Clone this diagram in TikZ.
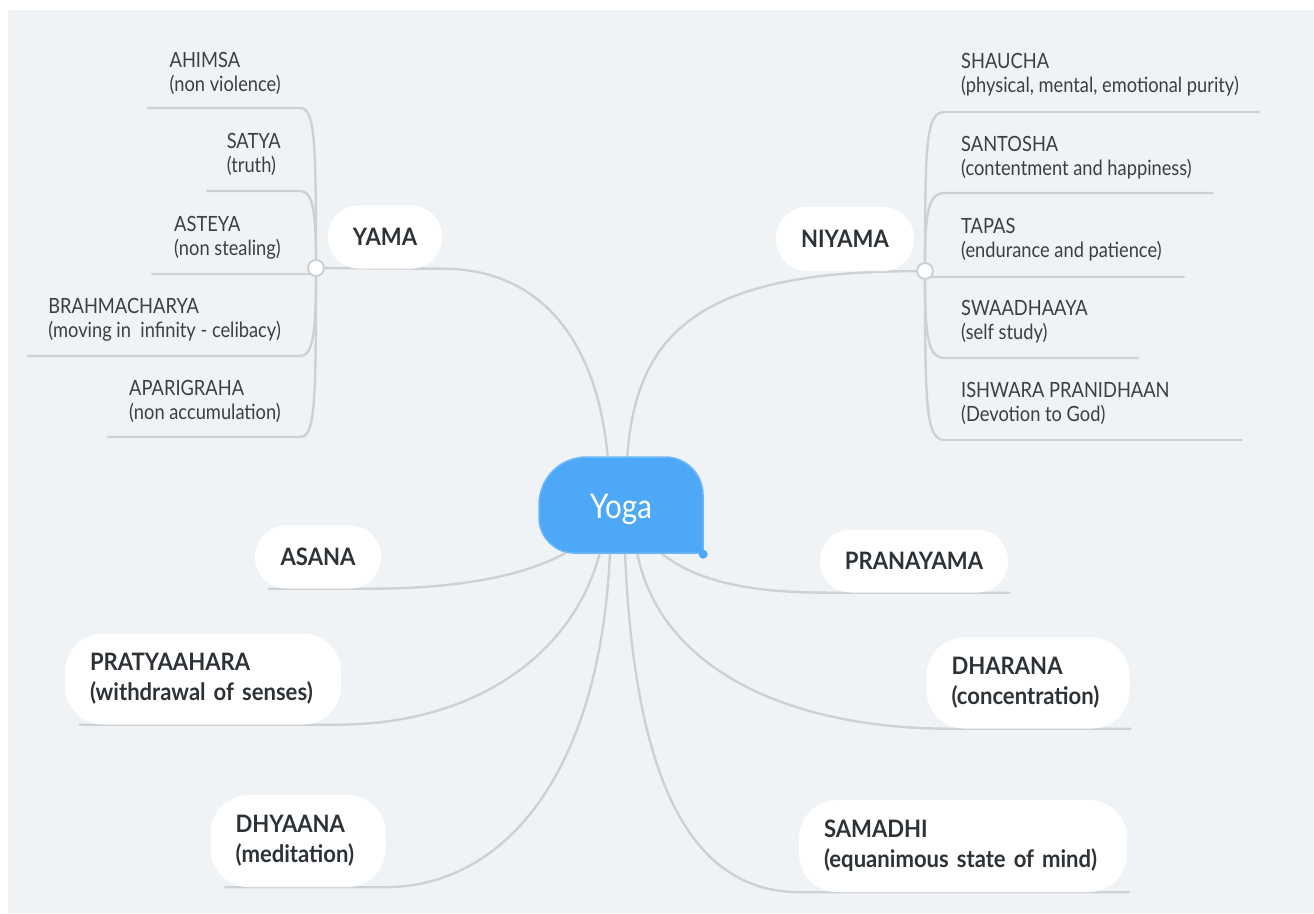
\documentclass[tikz,border=0pt]{standalone}
\usepackage{fontspec}
\setmainfont{Lato}[FakeStretch=0.87]
\newfontfamily\lblfont{Lato}[FakeStretch=0.92]
\usetikzlibrary{calc}
\definecolor{bgc}{HTML}{F0F3F6}
\definecolor{linec}{HTML}{CCD1D6}
\definecolor{blueY}{HTML}{4DA8F7}
\definecolor{blueB}{HTML}{6CB7F8}
\definecolor{txt}{HTML}{3A3F45}
\definecolor{lbl}{HTML}{2D3237}
\pgfdeclarelayer{back}
\pgfsetlayers{back,main}
\tikzset{
  conn/.style={draw=linec, line width=2.4pt, line cap=round},
  pill/.style={fill=white, rounded corners=31pt, inner xsep=25pt, inner ysep=0pt,
    font=\lblfont\bfseries\fontsize{24}{30}\selectfont, text=lbl},
  pilltwo/.style={pill, rounded corners=38pt, align=left},
  sub/.style={font=\fontsize{21}{24}\selectfont, text=txt, align=left, inner sep=0pt},
  hub/.style={circle, fill=white, draw=linec, line width=2pt, minimum size=16pt, inner sep=0pt},
}
\begin{document}
\begin{tikzpicture}[x=1pt,y=-1pt]
\useasboundingbox (0,0) rectangle (1314,913);
\begin{pgfonlayer}{back}
\fill[white] (0,0) rectangle (1314,913);
\fill[bgc] (8,10) rectangle (1314,913);
\end{pgfonlayer}

% central topic shape
\filldraw[fill=blueY, draw=blueB, line width=1.5pt]
  (703,553) -- (703,495) .. controls (703,474) and (686,457) .. (665,457)
  -- (587,457) .. controls (560,457) and (539,478) .. (539,505)
  -- (539,518) .. controls (539,537) and (555,553) .. (574,553) -- cycle;
\node[minimum width=164pt, minimum height=96pt, inner sep=0pt, text=white,
  text depth=0pt, font=\fontsize{34}{40}\selectfont] (yoga) at (621,506) {Yoga};
\fill[blueY] (yoga.south east) circle (4.5);

% main branches
\node[pill, minimum width=112pt, minimum height=63pt] (yama) at (385,237) {YAMA};
\node[pill, minimum width=136pt, minimum height=64pt] (niyama) at (845,239) {NIYAMA};
\node[pill, minimum width=126pt, minimum height=63pt] (asana) at (318,557) {ASANA};
\node[pill, minimum width=187pt, minimum height=63pt] (prana) at (914,561) {PRANAYAMA};
\node[pilltwo, text width=226pt, minimum height=91pt] (prat) at (203,679)
  {PRATYAAHARA\\(withdrawal of senses)};
\node[pilltwo, text width=153pt, minimum height=91pt] (dhar) at (1028,683)
  {DHARANA\\(concentration)};
\node[pilltwo, text width=125pt, minimum height=92pt] (dhya) at (298,841)
  {DHYAANA\\(meditation)};
\node[pilltwo, text width=278pt, minimum height=92pt] (sama) at (963,846)
  {SAMADHI\\(equanimous state of mind)};

\node[hub] (yhub) at (316,268) {};
\node[hub] (nhub) at (925,271) {};

% yama sub-topics (anchor = baseline of last line)
\node[sub, anchor=base east] (ahimsa) at (281,91) {AHIMSA\\(non violence)};
\node[sub, anchor=base east] (satya) at (281,172) {SATYA\\(truth)};
\node[sub, anchor=base east] (asteya) at (281,255) {ASTEYA\\(non stealing)};
\node[sub, anchor=base east] (brahma) at (281,337) {BRAHMACHARYA\\(moving in\ \ infinity - celibacy)};
\node[sub, anchor=base east] (apari) at (281,419) {APARIGRAHA\\(non accumulation)};

% niyama sub-topics
\node[sub, anchor=base west] (shaucha) at (961,92) {SHAUCHA\\(physical, mental, emotional purity)};
\node[sub, anchor=base west] (santosha) at (961,175) {SANTOSHA\\(contentment and happiness)};
\node[sub, anchor=base west] (tapas) at (961,257) {TAPAS\\(endurance and patience)};
\node[sub, anchor=base west] (swaa) at (961,339) {SWAADHAAYA\\(self study)};
\node[sub, anchor=base west] (ishwara) at (961,421) {ISHWARA PRANIDHAAN\\(Devotion to God)};

% free ends of underlines
\coordinate (ahimsaL) at (148,108);
\coordinate (satyaL) at (207,191);
\coordinate (asteyaL) at (152,274);
\coordinate (brahmaL) at (28,356);
\coordinate (apariL) at (108,437);
\coordinate (shauchaR) at (1259,112);
\coordinate (santoshaR) at (1213,193);
\coordinate (tapasR) at (1184,277);
\coordinate (swaaR) at (1138,358);
\coordinate (ishwaraR) at (1242,440);

\begin{pgfonlayer}{back}
% main connectors
\draw[conn] ($(yoga.north)+(-13,2)$) .. controls (598,340) and (540,268.5) .. (yama.south east) -- (yhub.center);
\draw[conn] ($(yoga.north)+(6,2)$) .. controls (635,340) and (690,271) .. (niyama.south east) -- (nhub.center);
\draw[conn] ($(yoga.south)+(-56,-1)$) .. controls (520,578) and (450,589) .. ($(asana.south east)+(-16,0)$) -- ($(asana.south west)+(14,0)$);
\draw[conn] ($(yoga.south)+(-21,-2)$) .. controls (575,650) and (480,725) .. ($(prat.south east)+(-6,0)$) -- ($(prat.south west)+(15,0)$);
\draw[conn] ($(yoga.south)+(-11,-2)$) .. controls (600,780) and (500,887) .. (dhya.south east) -- ($(dhya.south west)+(15,0)$);
\draw[conn] ($(yoga.south)+(4,-2)$) .. controls (635,800) and (700,892) .. ($(sama.south west)+(1,0)$) -- ($(sama.south east)+(2,0)$);
\draw[conn] ($(yoga.south)+(16,-2)$) .. controls (660,670) and (790,728.5) .. ($(dhar.south west)+(23,0)$) -- ($(dhar.south east)+(1,0)$);
\draw[conn] ($(yoga.south)+(39,-2)$) .. controls (700,585) and (760,592.5) .. ($(prana.south west)+(9,0)$) -- ($(prana.south east)+(1,0)$);

% yama children
\draw[conn] (yhub.center) .. controls (316,140) and (315,108) .. (300,108) -- (ahimsaL);
\draw[conn] (yhub.center) .. controls (316,215) and (314,191) .. (300,191) -- (satyaL);
\draw[conn] (yhub.center) .. controls (316,274) .. (302,274) -- (asteyaL);
\draw[conn] (yhub.center) .. controls (316,330) and (314,356) .. (300,356) -- (brahmaL);
\draw[conn] (yhub.center) .. controls (316,405) and (315,437) .. (300,437) -- (apariL);

% niyama children
\draw[conn] (nhub.center) .. controls (925,140) and (926,112) .. (945,112) -- (shauchaR);
\draw[conn] (nhub.center) .. controls (925,215) and (927,193) .. (945,193) -- (santoshaR);
\draw[conn] (nhub.center) .. controls (925,277) .. (940,277) -- (tapasR);
\draw[conn] (nhub.center) .. controls (925,335) and (927,358) .. (945,358) -- (swaaR);
\draw[conn] (nhub.center) .. controls (925,410) and (926,440) .. (945,440) -- (ishwaraR);
\end{pgfonlayer}
\end{tikzpicture}
\end{document}
